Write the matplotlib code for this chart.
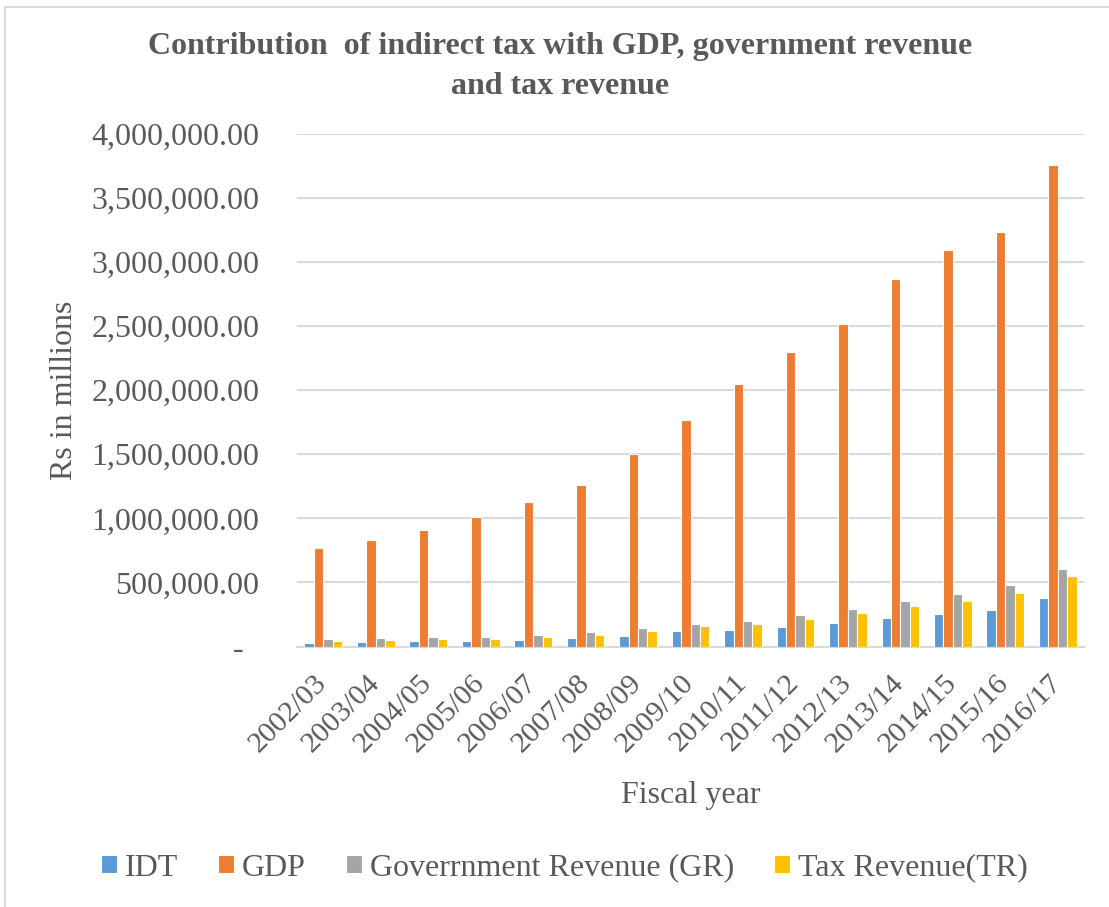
import numpy as np
import matplotlib.pyplot as plt
from matplotlib.patches import Rectangle
from matplotlib.ticker import FuncFormatter
from matplotlib.transforms import ScaledTranslation

# fiscal years and series (Rs in millions)
years = ['2002/03', '2003/04', '2004/05', '2005/06', '2006/07', '2007/08',
         '2008/09', '2009/10', '2010/11', '2011/12', '2012/13', '2013/14',
         '2014/15', '2015/16', '2016/17']
idt = [30000, 37000, 43000, 45000, 53000, 64000, 82000, 121000, 131000,
       152000, 186000, 225000, 256000, 287000, 381000]
gdp = [770000, 832000, 910000, 1012000, 1129000, 1262000, 1504000, 1770000,
       2051000, 2301000, 2520000, 2871000, 3098000, 3238000, 3754000]
gr = [56000, 64000, 72000, 74000, 90000, 111000, 145000, 178000, 199000,
      246000, 295000, 355000, 408000, 483000, 608000]
tr = [43000, 51000, 56000, 59000, 72000, 87000, 121000, 160000, 178000,
      212000, 262000, 314000, 355000, 420000, 553000]

series = [idt, gdp, gr, tr]
names = ['IDT', 'GDP', 'Goverrnment Revenue (GR)', 'Tax Revenue(TR)']
colors = ['#5B9BD5', '#ED7D31', '#A5A5A5', '#FFC000']

plt.rcParams['font.family'] = ['Liberation Serif', 'DejaVu Serif']
txt = '#595959'

fig = plt.figure(figsize=(11.09, 9.07), dpi=100)
ax = fig.add_axes([0.2678, 0.2872, 0.7097, 0.5651])

x = np.arange(len(years))
w = 0.18
for k, (vals, nm, c) in enumerate(zip(series, names, colors)):
    ax.bar(x + (k - 1.5) * w, vals, width=w, color=c, edgecolor='white',
           linewidth=0.8, label=nm, zorder=3)

ax.set_xlim(-0.5, len(years) - 0.5)
ax.set_ylim(0, 4000000)
ax.set_yticks(np.arange(0, 4000001, 500000))
ax.yaxis.set_major_formatter(FuncFormatter(
    lambda v, p: '-  ' if v == 0 else '{:,.2f}'.format(v)))
ax.grid(axis='y', color='#d9d9d9', linewidth=1.5, zorder=0)
ax.set_xticks(x)
ax.set_xticklabels(years, rotation=45, ha='right', va='top')
ax.tick_params(axis='y', length=0, pad=27, labelsize=23, labelcolor=txt)
ax.tick_params(axis='x', length=0, pad=17, labelsize=21.5, labelcolor=txt)
# nudge the slanted year labels a little to the right
shift = ScaledTranslation(9 / 100, 0, fig.dpi_scale_trans)
for lab in ax.get_xticklabels():
    lab.set_transform(lab.get_transform() + shift)

for s in ['top', 'right', 'left']:
    ax.spines[s].set_visible(False)
ax.spines['bottom'].set_color('#d9d9d9')
ax.spines['bottom'].set_linewidth(1.5)

ax.set_ylabel('Rs in millions', fontsize=23, color=txt, labelpad=9)
ax.set_xlabel('Fiscal year', fontsize=23, color=txt, labelpad=17)

fig.text(0.505, 0.927, 'Contribution  of indirect tax with GDP, government revenue\nand tax revenue',
         ha='center', va='center', fontsize=23, fontweight='bold', color=txt,
         linespacing=1.5)

fig.legend(loc='center', bbox_to_anchor=(0.509, 1 - 868 / 907), ncol=4,
           frameon=False, fontsize=23, labelcolor=txt, handlelength=0.5,
           handleheight=0.5, handletextpad=0.25, columnspacing=1.25)

# chart frame
fig.patches.append(Rectangle((5 / 1109, -0.1), 1.2, 1 - 7 / 907 + 0.1,
                             transform=fig.transFigure, fill=False,
                             edgecolor='#d9d9d9', linewidth=1.5))

fig.savefig('out.png', dpi=100)
